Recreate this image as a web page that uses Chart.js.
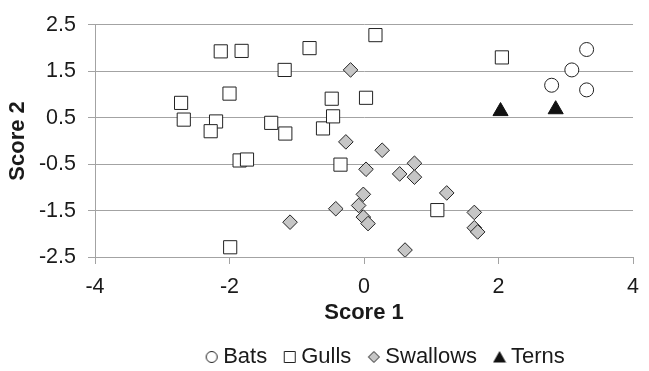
<!DOCTYPE html>
<html>
<head>
<meta charset="utf-8">
<script src="https://cdn.jsdelivr.net/npm/chart.js@4/dist/chart.umd.min.js"></script>
<style>
  html, body { margin: 0; padding: 0; background: #fff; overflow: hidden; }
  canvas { display: block; }
</style>
</head>
<body>
<canvas id="chart" width="649" height="371"></canvas>
<script>
// Principal component scores per group
const batsX = [3.31, 3.09, 2.79, 3.31];
const batsY = [1.97, 1.53, 1.20, 1.10];

const gullsX = [-2.72, -2.68, -2.13, -1.82, -2.00, -2.20, -2.28, -0.81, -1.18, -1.38, -1.17,
                -0.61, 0.17, 2.05, -0.48, 0.03, -0.46, -1.85, -1.74, -1.99, -0.35, 1.09];
const gullsY = [0.82, 0.46, 1.93, 1.94, 1.02, 0.42, 0.21, 2.00, 1.53, 0.39, 0.16,
                0.27, 2.28, 1.80, 0.91, 0.93, 0.53, -0.42, -0.40, -2.29, -0.51, -1.49];

const swallowsX = [-0.20, -0.27, 0.27, 0.03, 0.75, 0.53, 0.75, 1.23, -0.01, -0.42, -0.08,
                   -0.01, 0.06, 1.64, 1.64, 1.69, 0.61, -1.10];
const swallowsY = [1.53, -0.02, -0.20, -0.61, -0.48, -0.71, -0.78, -1.12, -1.15, -1.46, -1.39,
                   -1.64, -1.78, -1.54, -1.87, -1.96, -2.35, -1.75];

const ternsX = [2.03, 2.85];
const ternsY = [0.64, 0.68];

const xTicks = [-4, -2, 0, 2, 4];
const yTicks = [-2.5, -1.5, -0.5, 0.5, 1.5, 2.5];

const seriesNames = ['Bats', 'Gulls', 'Swallows', 'Terns'];
const axisTitles = { x: 'Score 1', y: 'Score 2' };

const toPoints = (xs, ys) => xs.map((x, i) => ({ x: x, y: ys[i] }));

const INK = '#222222';
const GRID = '#a3a3a3';
const SWALLOW_FILL = '#c6c6c6';

// Small legend glyphs
function glyph(kind) {
  const c = document.createElement('canvas');
  c.width = 14; c.height = 14;
  const g = c.getContext('2d');
  g.lineWidth = 1;
  g.strokeStyle = INK;
  g.beginPath();
  if (kind === 'circle') {
    g.arc(7, 7, 5.5, 0, Math.PI * 2);
    g.fillStyle = '#fff'; g.fill(); g.stroke();
  } else if (kind === 'rect') {
    g.rect(1.5, 1.5, 11, 11);
    g.fillStyle = '#fff'; g.fill(); g.stroke();
  } else if (kind === 'diamond') {
    g.moveTo(7, 1.5); g.lineTo(12.5, 7); g.lineTo(7, 12.5); g.lineTo(1.5, 7); g.closePath();
    g.fillStyle = SWALLOW_FILL; g.fill(); g.stroke();
  } else {
    g.moveTo(7, 1); g.lineTo(13.5, 12.5); g.lineTo(0.5, 12.5); g.closePath();
    g.fillStyle = '#111'; g.fill();
  }
  return c;
}
const legendGlyphs = [glyph('circle'), glyph('rect'), glyph('diamond'), glyph('triangle')];

// Moves the legend row under the plot (its box is also its clip area)
const legendPlacement = {
  id: 'legendPlacement',
  afterLayout(chart) {
    const lg = chart.legend;
    if (!lg) return;
    const dx = 67, dy = -9;
    lg.left += dx; lg.right += dx;
    lg.top += dy;
    lg.bottom = chart.height;
  }
};

Chart.defaults.font.family = '"Liberation Sans", Arial, sans-serif';
Chart.defaults.color = '#1a1a1a';

new Chart(document.getElementById('chart'), {
  type: 'scatter',
  data: {
    datasets: [
      {
        label: seriesNames[0], data: toPoints(batsX, batsY),
        pointStyle: 'circle', pointRadius: 7, pointHoverRadius: 7,
        backgroundColor: '#ffffff', borderColor: INK, borderWidth: 1
      },
      {
        label: seriesNames[1], data: toPoints(gullsX, gullsY),
        pointStyle: 'rect', pointRadius: 9.3, pointHoverRadius: 9.3,
        backgroundColor: '#ffffff', borderColor: INK, borderWidth: 1
      },
      {
        label: seriesNames[2], data: toPoints(swallowsX, swallowsY),
        pointStyle: 'rectRot', pointRadius: 7.3, pointHoverRadius: 7.3,
        backgroundColor: SWALLOW_FILL, borderColor: INK, borderWidth: 1
      },
      {
        label: seriesNames[3], data: toPoints(ternsX, ternsY),
        pointStyle: 'triangle', pointRadius: 8.7, pointHoverRadius: 8.7,
        backgroundColor: '#111111', borderColor: '#111111', borderWidth: 1
      }
    ]
  },
  options: {
    responsive: false,
    maintainAspectRatio: false,
    animation: false,
    devicePixelRatio: 1,
    layout: { padding: { top: 19, right: 7, left: 0, bottom: 0 } },
    plugins: {
      tooltip: { enabled: false },
      legend: {
        position: 'bottom',
        maxHeight: 38,
        labels: {
          usePointStyle: true,
          boxWidth: 1,
          boxHeight: 22,
          padding: 22,
          font: { size: 22 },
          color: '#1a1a1a',
          generateLabels(chart) {
            const items = Chart.defaults.plugins.legend.labels.generateLabels(chart);
            items.forEach(it => { it.pointStyle = legendGlyphs[it.datasetIndex]; });
            return items;
          }
        }
      }
    },
    scales: {
      x: {
        type: 'linear',
        min: xTicks[0], max: xTicks[xTicks.length - 1],
        afterBuildTicks(scale) { scale.ticks = xTicks.map(v => ({ value: v })); },
        afterFit(scale) { scale.height = 76; },
        grid: { drawOnChartArea: false, tickLength: 7, color: GRID, lineWidth: 1 },
        border: { color: GRID, width: 1 },
        ticks: { padding: 10, font: { size: 21.5 }, color: '#1a1a1a' },
        title: {
          display: true, text: axisTitles.x,
          font: { size: 22, weight: 'bold' },
          padding: { top: 0, bottom: 6.5 }, color: '#1a1a1a'
        }
      },
      y: {
        type: 'linear',
        min: yTicks[0], max: yTicks[yTicks.length - 1],
        afterBuildTicks(scale) { scale.ticks = yTicks.map(v => ({ value: v })); },
        afterFit(scale) { scale.width = 95; },
        grid: { tickLength: 7, color: GRID, lineWidth: 1 },
        border: { color: GRID, width: 1 },
        ticks: { padding: 12, font: { size: 21.5 }, color: '#1a1a1a' },
        title: {
          display: true, text: axisTitles.y,
          font: { size: 22, weight: 'bold' },
          padding: { top: 5, bottom: 0 }, color: '#1a1a1a'
        }
      }
    }
  },
  plugins: [legendPlacement]
});
</script>
</body>
</html>
